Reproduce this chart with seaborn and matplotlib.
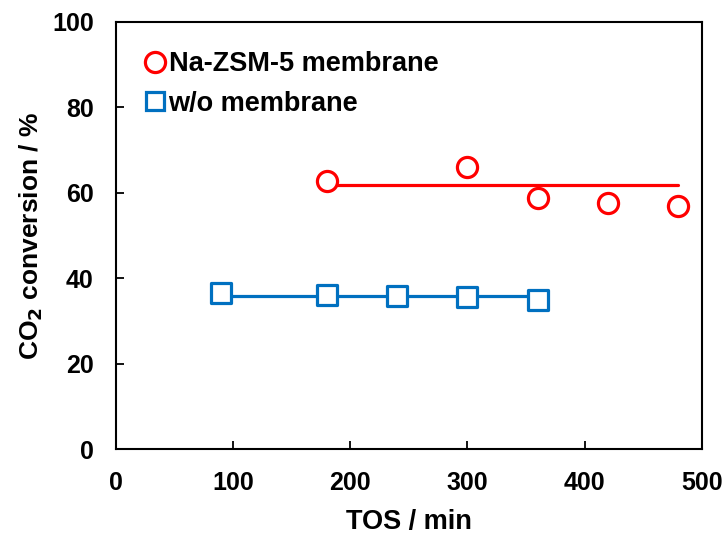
import matplotlib
matplotlib.use('Agg')
import matplotlib.pyplot as plt
import seaborn as sns
import pandas as pd
from matplotlib.lines import Line2D

# Дані
tos_mem = [180, 300, 360, 420, 480]
conv_mem = [62.8, 66.0, 58.8, 57.6, 56.9]
tos_nomem = [90, 180, 240, 300, 360]
conv_nomem = [36.5, 36.1, 35.8, 35.6, 34.9]
fit_mem_x = [180, 480]
fit_mem_y = [61.8, 61.8]
fit_nomem_x = [90, 360]
fit_nomem_y = [35.9, 35.9]

red = '#FF0000'
blue = '#0070C0'

sns.set_style('ticks')
plt.rcParams['font.family'] = ['Liberation Sans', 'DejaVu Sans']
plt.rcParams['font.weight'] = 'bold'
plt.rcParams['text.color'] = 'black'
plt.rcParams['axes.labelcolor'] = 'black'
plt.rcParams['xtick.color'] = 'black'
plt.rcParams['ytick.color'] = 'black'
plt.rcParams['axes.edgecolor'] = 'black'

fig = plt.figure(figsize=(7.25, 5.36), dpi=100)
ax = fig.add_axes([0.160, 0.162, 0.808, 0.797])

sns.lineplot(x=fit_mem_x, y=fit_mem_y, color=red, linewidth=2.3, ax=ax)
sns.lineplot(x=fit_nomem_x, y=fit_nomem_y, color=blue, linewidth=2.3, ax=ax)

df_mem = pd.DataFrame({'tos': tos_mem, 'conv': conv_mem})
df_nomem = pd.DataFrame({'tos': tos_nomem, 'conv': conv_nomem})
sns.scatterplot(data=df_mem, x='tos', y='conv', marker='o', s=210,
                facecolor='white', edgecolor=red, linewidth=2.3, ax=ax, zorder=3)
sns.scatterplot(data=df_nomem, x='tos', y='conv', marker='s', s=190,
                facecolor='white', edgecolor=blue, linewidth=2.3, ax=ax, zorder=3)

ax.set_xlim(0, 500)
ax.set_ylim(0, 100)
ax.set_xticks(range(0, 501, 100))
ax.set_yticks(range(0, 101, 20))
ax.tick_params(direction='in', length=6, width=1.3, labelsize=18, pad=16)
for s in ax.spines.values():
    s.set_linewidth(1.5)
    s.set_visible(True)

ax.set_xlabel('TOS / min', fontsize=19.5, fontweight='bold', labelpad=10)
ax.set_ylabel('CO$_\\mathbf{2}$ conversion / %', fontsize=19, fontweight='bold', labelpad=5)

handles = [
    Line2D([], [], marker='o', linestyle='none', markersize=14.5, markerfacecolor='white',
           markeredgecolor=red, markeredgewidth=2.3),
    Line2D([], [], marker='s', linestyle='none', markersize=13, markerfacecolor='white',
           markeredgecolor=blue, markeredgewidth=2.3),
]
ax.legend(handles, ['Na-ZSM-5 membrane', 'w/o membrane'], loc='upper left',
          frameon=False, handletextpad=0.0, handlelength=1.0,
          borderaxespad=0.0, bbox_to_anchor=(0.025, 0.957), labelspacing=0.5,
          prop={'weight': 'bold', 'size': 19.5})

fig.savefig('out.png', dpi=100)
